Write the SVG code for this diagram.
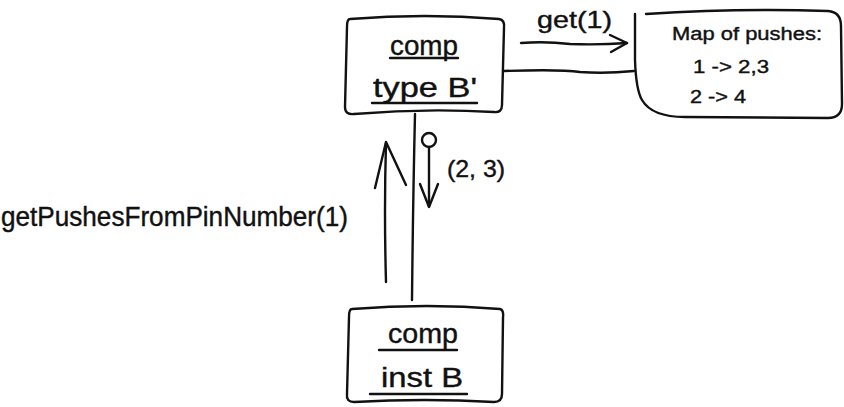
<svg xmlns="http://www.w3.org/2000/svg" width="844" height="407" viewBox="0 0 844 407">
<style>
.s{fill:none;stroke:#111;stroke-width:2.4;stroke-linecap:round;stroke-linejoin:round}
.t{font-family:"Liberation Sans",Arial,sans-serif;fill:#111;stroke:#111;stroke-width:0.4}
.big{font-size:27px}
.mid{font-size:24px}
.sm{font-size:18px}
</style>
<rect width="844" height="407" fill="#fff"/>
<g id="compTypeB">
<path class="s" d="M350,19 Q425,13 499,19 Q505,20 504,28 L502,105 Q502,113 494,112 Q424,108 354,114 Q345,115 345,107 L347,27 Q347,19 350,19 Z"/>
<text class="t big" x="424" y="55" text-anchor="middle" textLength="68" lengthAdjust="spacingAndGlyphs">comp</text>
<line class="s" x1="390" y1="58" x2="458" y2="58"/>
<text class="t big" x="425" y="97" text-anchor="middle" textLength="104" lengthAdjust="spacingAndGlyphs">type B'</text>
<line class="s" x1="372" y1="103" x2="477" y2="103"/>
</g>
<g id="mapOfPushes">
<path class="s" d="M635,14 L635,60 Q636,90 642,100 Q652,117 685,117 L828,118 Q842,118 842,104 L841,26 Q841,12 828,11 Q740,8 646,14"/>
<text class="t sm" x="672" y="40" textLength="150" lengthAdjust="spacingAndGlyphs">Map of pushes:</text>
<text class="t sm" x="693" y="73" textLength="76" lengthAdjust="spacingAndGlyphs">1 -&gt; 2,3</text>
<text class="t sm" x="690" y="103" textLength="56" lengthAdjust="spacingAndGlyphs">2 -&gt; 4</text>
</g>
<g id="compInstB">
<path class="s" d="M352,309 Q428,303 500,309 Q504,310 503,318 L502,394 Q502,402 494,402 Q425,398 354,402 Q346,402 347,394 L349,317 Q349,309 352,309 Z"/>
<text class="t big" x="423" y="343" text-anchor="middle" textLength="70" lengthAdjust="spacingAndGlyphs">comp</text>
<line class="s" x1="379" y1="350" x2="457" y2="350"/>
<text class="t big" x="422" y="387" text-anchor="middle" textLength="82" lengthAdjust="spacingAndGlyphs">inst B</text>
<line class="s" x1="370" y1="394" x2="467" y2="394"/>
</g>
<g id="connectors">
<path class="s" d="M415,114 Q413,200 412,300"/>
<path class="s" d="M504,71 Q560,69 580,72 Q605,74 634,71"/>
<path class="s" d="M521,43 Q545,41 570,44 Q600,45 627,43"/>
<path class="s" d="M610,35 L627,43 L611,52"/>
<path class="s" d="M386,282 Q384,210 386,143"/>
<path class="s" d="M375,188 L386,142 L406,185"/>
<circle class="s" cx="429" cy="140" r="7"/>
<line class="s" x1="429" y1="147" x2="429" y2="206"/>
<path class="s" d="M420,184 L429,207 L438,184"/>
<text class="t mid" x="537" y="28" textLength="75" lengthAdjust="spacingAndGlyphs">get(1)</text>
<text class="t mid" x="447" y="177" textLength="58" lengthAdjust="spacingAndGlyphs">(2, 3)</text>
<text class="t big" x="1" y="226" textLength="347" lengthAdjust="spacingAndGlyphs">getPushesFromPinNumber(1)</text>
</g>
</svg>
